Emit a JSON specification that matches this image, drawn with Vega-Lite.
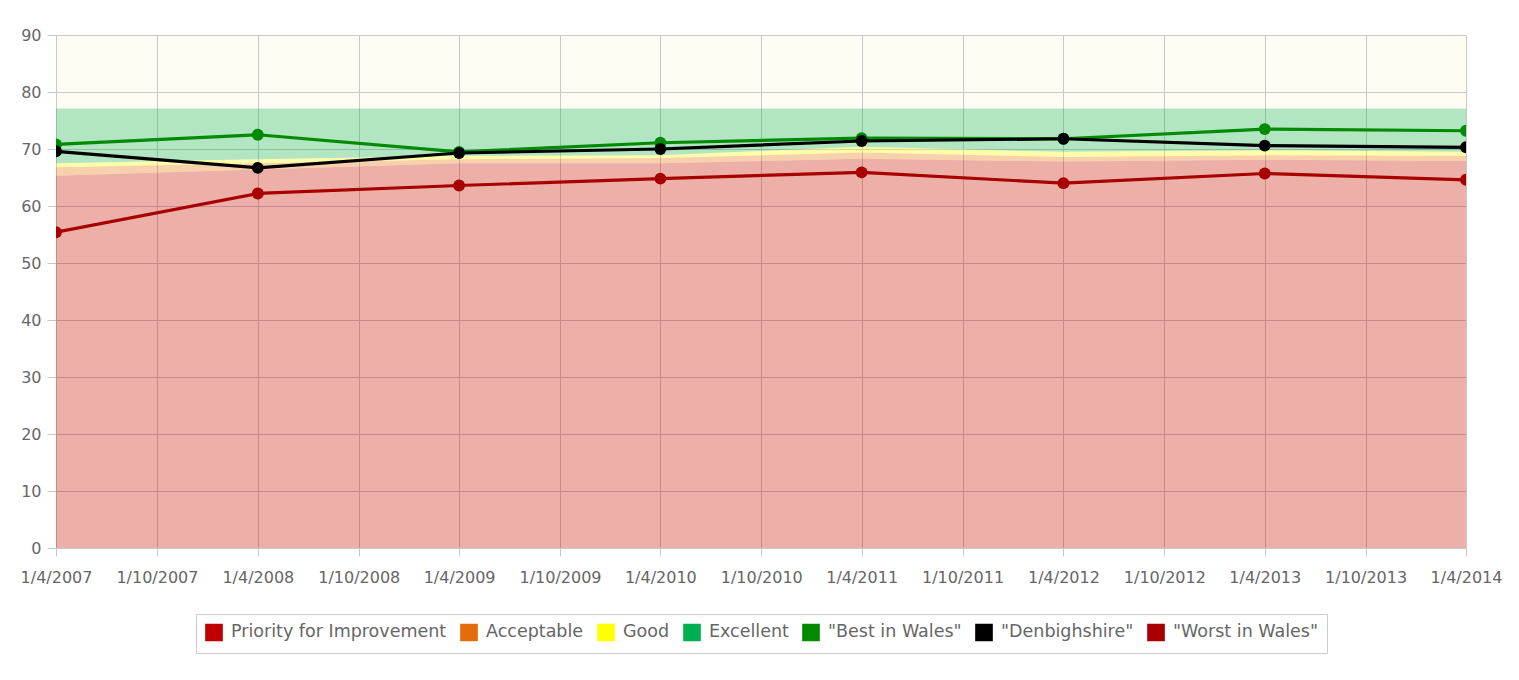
{
  "$schema": "https://vega.github.io/schema/vega-lite/v6.json",
  "width": 1410,
  "height": 513,
  "autosize": "none",
  "padding": {"left": 56, "top": 35, "right": 53, "bottom": 132},
  "background": "white",
  "config": {
    "view": {"fill": "#fffcf3", "stroke": null},
    "font": "DejaVu Sans",
    "axis": {
      "grid": true,
      "gridColor": "#c8c8c8",
      "tickColor": "#c8c8c8",
      "domainColor": "#c8c8c8",
      "labelColor": "#666666",
      "labelFontSize": 16,
      "tickSize": 8,
      "title": null
    }
  },
  "datasets": {
    "bands": [
      {"date": "2007/04/01", "series": "Priority for Improvement", "lo": 0, "hi": 65.3},
      {"date": "2008/04/01", "series": "Priority for Improvement", "lo": 0, "hi": 66.4},
      {"date": "2009/04/01", "series": "Priority for Improvement", "lo": 0, "hi": 67.5},
      {"date": "2010/04/01", "series": "Priority for Improvement", "lo": 0, "hi": 67.5},
      {"date": "2011/04/01", "series": "Priority for Improvement", "lo": 0, "hi": 68.3},
      {"date": "2012/04/01", "series": "Priority for Improvement", "lo": 0, "hi": 67.8},
      {"date": "2013/04/01", "series": "Priority for Improvement", "lo": 0, "hi": 68.1},
      {"date": "2014/04/01", "series": "Priority for Improvement", "lo": 0, "hi": 67.9},
      {"date": "2007/04/01", "series": "Acceptable", "lo": 65.3, "hi": 66.8},
      {"date": "2008/04/01", "series": "Acceptable", "lo": 66.4, "hi": 67.5},
      {"date": "2009/04/01", "series": "Acceptable", "lo": 67.5, "hi": 68.2},
      {"date": "2010/04/01", "series": "Acceptable", "lo": 67.5, "hi": 68.4},
      {"date": "2011/04/01", "series": "Acceptable", "lo": 68.3, "hi": 69.4},
      {"date": "2012/04/01", "series": "Acceptable", "lo": 67.8, "hi": 68.6},
      {"date": "2013/04/01", "series": "Acceptable", "lo": 68.1, "hi": 68.9},
      {"date": "2014/04/01", "series": "Acceptable", "lo": 67.9, "hi": 68.8},
      {"date": "2007/04/01", "series": "Good", "lo": 66.8, "hi": 67.5},
      {"date": "2008/04/01", "series": "Good", "lo": 67.5, "hi": 68.2},
      {"date": "2009/04/01", "series": "Good", "lo": 68.2, "hi": 68.8},
      {"date": "2010/04/01", "series": "Good", "lo": 68.4, "hi": 68.9},
      {"date": "2011/04/01", "series": "Good", "lo": 69.4, "hi": 70.4},
      {"date": "2012/04/01", "series": "Good", "lo": 68.6, "hi": 69.5},
      {"date": "2013/04/01", "series": "Good", "lo": 68.9, "hi": 69.8},
      {"date": "2014/04/01", "series": "Good", "lo": 68.8, "hi": 69.5},
      {"date": "2007/04/01", "series": "Excellent", "lo": 67.5, "hi": 77.1},
      {"date": "2008/04/01", "series": "Excellent", "lo": 68.2, "hi": 77.1},
      {"date": "2009/04/01", "series": "Excellent", "lo": 68.8, "hi": 77.1},
      {"date": "2010/04/01", "series": "Excellent", "lo": 68.9, "hi": 77.1},
      {"date": "2011/04/01", "series": "Excellent", "lo": 70.4, "hi": 77.1},
      {"date": "2012/04/01", "series": "Excellent", "lo": 69.5, "hi": 77.1},
      {"date": "2013/04/01", "series": "Excellent", "lo": 69.8, "hi": 77.1},
      {"date": "2014/04/01", "series": "Excellent", "lo": 69.5, "hi": 77.1}
    ],
    "lines": [
      {"date": "2007/04/01", "series": "\"Best in Wales\"", "value": 70.8},
      {"date": "2008/04/01", "series": "\"Best in Wales\"", "value": 72.5},
      {"date": "2009/04/01", "series": "\"Best in Wales\"", "value": 69.5},
      {"date": "2010/04/01", "series": "\"Best in Wales\"", "value": 71.1},
      {"date": "2011/04/01", "series": "\"Best in Wales\"", "value": 71.9},
      {"date": "2012/04/01", "series": "\"Best in Wales\"", "value": 71.8},
      {"date": "2013/04/01", "series": "\"Best in Wales\"", "value": 73.5},
      {"date": "2014/04/01", "series": "\"Best in Wales\"", "value": 73.2},
      {"date": "2007/04/01", "series": "\"Denbighshire\"", "value": 69.6},
      {"date": "2008/04/01", "series": "\"Denbighshire\"", "value": 66.7},
      {"date": "2009/04/01", "series": "\"Denbighshire\"", "value": 69.3},
      {"date": "2010/04/01", "series": "\"Denbighshire\"", "value": 70.0},
      {"date": "2011/04/01", "series": "\"Denbighshire\"", "value": 71.4},
      {"date": "2012/04/01", "series": "\"Denbighshire\"", "value": 71.8},
      {"date": "2013/04/01", "series": "\"Denbighshire\"", "value": 70.6},
      {"date": "2014/04/01", "series": "\"Denbighshire\"", "value": 70.3},
      {"date": "2007/04/01", "series": "\"Worst in Wales\"", "value": 55.4},
      {"date": "2008/04/01", "series": "\"Worst in Wales\"", "value": 62.2},
      {"date": "2009/04/01", "series": "\"Worst in Wales\"", "value": 63.6},
      {"date": "2010/04/01", "series": "\"Worst in Wales\"", "value": 64.8},
      {"date": "2011/04/01", "series": "\"Worst in Wales\"", "value": 65.9},
      {"date": "2012/04/01", "series": "\"Worst in Wales\"", "value": 64.0},
      {"date": "2013/04/01", "series": "\"Worst in Wales\"", "value": 65.7},
      {"date": "2014/04/01", "series": "\"Worst in Wales\"", "value": 64.6}
    ]
  },
  "layer": [
    {
      "data": {"name": "bands"},
      "mark": {"type": "area", "opacity": 0.3, "interpolate": "linear"},
      "encoding": {
        "x": {
          "field": "date",
          "type": "temporal",
          "scale": {"domain": [{"year": 2007, "month": 4, "date": 1}, {"year": 2014, "month": 4, "date": 1}]},
          "axis": {
            "values": [
              {"year": 2007, "month": 4, "date": 1}, {"year": 2007, "month": 10, "date": 1},
              {"year": 2008, "month": 4, "date": 1}, {"year": 2008, "month": 10, "date": 1},
              {"year": 2009, "month": 4, "date": 1}, {"year": 2009, "month": 10, "date": 1},
              {"year": 2010, "month": 4, "date": 1}, {"year": 2010, "month": 10, "date": 1},
              {"year": 2011, "month": 4, "date": 1}, {"year": 2011, "month": 10, "date": 1},
              {"year": 2012, "month": 4, "date": 1}, {"year": 2012, "month": 10, "date": 1},
              {"year": 2013, "month": 4, "date": 1}, {"year": 2013, "month": 10, "date": 1},
              {"year": 2014, "month": 4, "date": 1}
            ],
            "format": "%-d/%-m/%Y",
            "labelAngle": 0,
            "labelOverlap": false,
            "labelFlush": false,
            "labelPadding": 13
          }
        },
        "y": {
          "field": "lo",
          "type": "quantitative",
          "stack": null,
          "scale": {"domain": [0, 90], "nice": false},
          "axis": {"values": [0, 10, 20, 30, 40, 50, 60, 70, 80, 90], "labelPadding": 6, "tickSize": 9}
        },
        "y2": {"field": "hi"},
        "color": {
          "field": "series",
          "type": "nominal",
          "scale": {
            "domain": ["Priority for Improvement", "Acceptable", "Good", "Excellent", "\"Best in Wales\"", "\"Denbighshire\"", "\"Worst in Wales\""],
            "range": ["#c00000", "#e46c0a", "#ffff00", "#00b050", "#008a00", "#000000", "#a80000"]
          },
          "legend": {
            "orient": "none",
            "legendX": 140,
            "legendY": 579,
            "direction": "horizontal",
            "columns": 7,
            "title": null,
            "symbolType": "square",
            "symbolOpacity": 1,
            "symbolSize": 260,
            "symbolStrokeColor": "#bbbbbb",
            "symbolStrokeWidth": 1.5,
            "labelFontSize": 17.5,
            "labelLimit": 0,
            "labelColor": "#666666",
            "strokeColor": "#cccccc",
            "padding": 9,
            "columnPadding": 10,
            "labelOffset": 8
          }
        }
      }
    },
    {
      "data": {"name": "lines"},
      "mark": {"type": "line", "strokeWidth": 3.2, "clip": true},
      "encoding": {
        "x": {"field": "date", "type": "temporal"},
        "y": {"field": "value", "type": "quantitative"},
        "color": {"field": "series", "type": "nominal", "legend": null}
      }
    },
    {
      "data": {"name": "lines"},
      "mark": {"type": "point", "filled": true, "size": 140, "opacity": 1, "clip": true},
      "encoding": {
        "x": {"field": "date", "type": "temporal"},
        "y": {"field": "value", "type": "quantitative"},
        "color": {"field": "series", "type": "nominal", "legend": null}
      }
    }
  ]
}
